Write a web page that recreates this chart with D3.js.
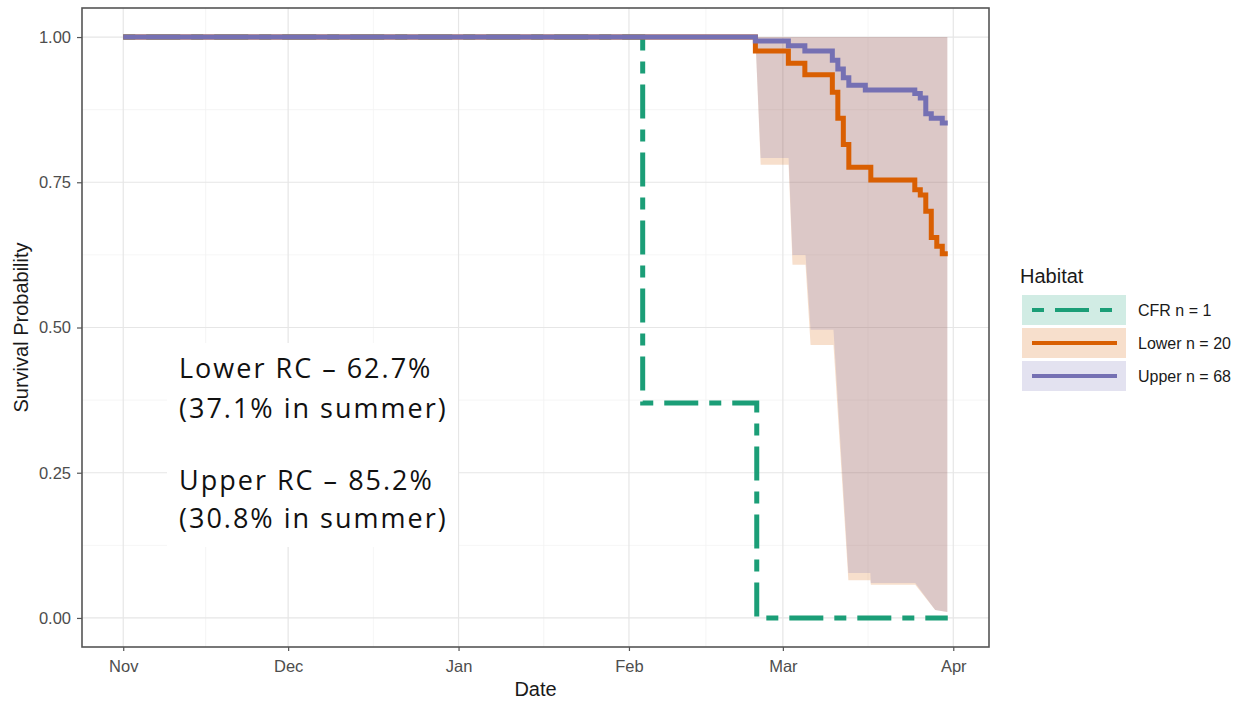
<!DOCTYPE html>
<html>
<head>
<meta charset="utf-8">
<script src="https://cdn.jsdelivr.net/npm/d3@7"></script>
<style>
body { margin: 0; background: #fff; }
</style>
</head>
<body>
<div id="chart"></div>
<script>
const parse = d3.timeParse("%Y-%m-%d %H:%M")

// survival steps per habitat
const cfrTimes = ["2018-11-01 00:00", "2019-02-03 12:00", "2019-02-24 06:00", "2019-03-31 00:00"]
const cfrSurv = [1, 0.37, 0, 0]

const lowerTimes = ["2018-11-01 00:00", "2019-02-24 00:00", "2019-03-02 00:00", "2019-03-05 00:00",
  "2019-03-10 00:00", "2019-03-11 00:00", "2019-03-12 00:00", "2019-03-13 00:00", "2019-03-17 00:00",
  "2019-03-25 00:00", "2019-03-26 00:00", "2019-03-27 00:00", "2019-03-28 00:00", "2019-03-29 00:00",
  "2019-03-30 00:00", "2019-03-31 00:00"]
const lowerSurv = [1, 0.976, 0.955, 0.935, 0.905, 0.86, 0.815, 0.776, 0.754,
  0.737, 0.728, 0.70, 0.655, 0.64, 0.627, 0.627]

const upperTimes = ["2018-11-01 00:00", "2019-02-24 00:00", "2019-03-02 00:00", "2019-03-05 00:00",
  "2019-03-10 00:00", "2019-03-11 00:00", "2019-03-12 00:00", "2019-03-13 00:00", "2019-03-16 00:00",
  "2019-03-25 00:00", "2019-03-26 00:00", "2019-03-27 00:00", "2019-03-28 00:00", "2019-03-30 00:00",
  "2019-03-31 00:00"]
const upperSurv = [1, 0.993, 0.985, 0.976, 0.96, 0.945, 0.93, 0.917, 0.909,
  0.903, 0.895, 0.868, 0.86, 0.852, 0.852]

// confidence bands: lower edges, top edge is 1
const bandTimes = ["2019-02-24 00:00", "2019-02-24 23:00", "2019-03-02 01:00", "2019-03-02 18:00",
  "2019-03-05 03:00", "2019-03-06 01:00", "2019-03-10 05:00", "2019-03-12 22:00", "2019-03-16 22:00",
  "2019-03-17 00:00", "2019-03-25 02:00", "2019-03-28 17:00", "2019-03-30 22:00"]
const lowerBandLow = [1, 0.780, 0.780, 0.608, 0.608, 0.470, 0.470, 0.065, 0.065, 0.057, 0.057, 0.0138, 0.0103]
const upperBandLow = [1, 0.792, 0.792, 0.625, 0.625, 0.496, 0.496, 0.0775, 0.0775, 0.0602, 0.0602, 0.0138, 0.0103]

const monthTicks = ["2018-11-01 00:00", "2018-12-01 00:00", "2019-01-01 00:00", "2019-02-01 00:00",
  "2019-03-01 00:00", "2019-04-01 00:00"]
const monthLabels = ["Nov", "Dec", "Jan", "Feb", "Mar", "Apr"]
const yTicks = [0, 0.25, 0.5, 0.75, 1]
const yMinor = [0.125, 0.375, 0.625, 0.875]

const habitats = ["CFR n = 1", "Lower n = 20", "Upper n = 68"]
const habitatColors = ["#1b9e77", "#d95f02", "#7570b3"]
const notes = ["Lower RC – 62.7%", "(37.1% in summer)", "Upper RC – 85.2%", "(30.8% in summer)"]

const width = 1249
const height = 701
const pLeft = 82, pRight = 989, pTop = 8, pBottom = 647
const font = "'Liberation Sans', Arial, sans-serif"
const dash = "12 11 34 11"

const svg = d3.select("#chart")
  .append("svg")
  .attr("width", width)
  .attr("height", height)
  .style("font-family", font)

svg.append("rect").attr("width", width).attr("height", height).attr("fill", "#fff")

const t0 = parse(cfrTimes[0])
const t1 = parse(cfrTimes[cfrTimes.length - 1])
const pad = (t1 - t0) * 0.05
const x = d3.scaleTime()
  .domain([new Date(+t0 - pad), new Date(+t1 + pad)])
  .range([pLeft, pRight])
const y = d3.scaleLinear().domain([-0.05, 1.05]).range([pBottom, pTop])

const months = monthTicks.map(parse)

// grid
const minorX = d3.pairs(months).map(([a, b]) => (x(a) + x(b)) / 2)
const grid = svg.append("g")
grid.selectAll(".mx").data(minorX).join("line")
  .attr("x1", d => d).attr("x2", d => d).attr("y1", pTop).attr("y2", pBottom)
  .attr("stroke", "#f2f2f2").attr("stroke-width", 0.8)
grid.selectAll(".my").data(yMinor).join("line")
  .attr("x1", pLeft).attr("x2", pRight).attr("y1", d => y(d)).attr("y2", d => y(d))
  .attr("stroke", "#f2f2f2").attr("stroke-width", 0.8)
grid.selectAll(".gx").data(months).join("line")
  .attr("x1", d => x(d)).attr("x2", d => x(d)).attr("y1", pTop).attr("y2", pBottom)
  .attr("stroke", "#e6e6e6").attr("stroke-width", 1.2)
grid.selectAll(".gy").data(yTicks).join("line")
  .attr("x1", pLeft).attr("x2", pRight).attr("y1", d => y(d)).attr("y2", d => y(d))
  .attr("stroke", "#e6e6e6").attr("stroke-width", 1.2)

// bands
const band = d3.area()
  .x(d => x(d.t))
  .y0(d => y(d.lo))
  .y1(y(1))

const lowerBand = bandTimes.map((t, i) => ({t: parse(t), lo: lowerBandLow[i]}))
const upperBand = bandTimes.map((t, i) => ({t: parse(t), lo: upperBandLow[i]}))

svg.append("path").attr("d", band(lowerBand))
  .attr("fill", habitatColors[1]).attr("fill-opacity", 0.2)
svg.append("path").attr("d", band(upperBand))
  .attr("fill", habitatColors[2]).attr("fill-opacity", 0.2)

// survival curves
const line = d3.line()
  .x(d => x(d.t))
  .y(d => y(d.s))
  .curve(d3.curveStepAfter)

const series = [
  {times: cfrTimes, surv: cfrSurv, color: habitatColors[0], dash: dash},
  {times: lowerTimes, surv: lowerSurv, color: habitatColors[1], dash: null},
  {times: upperTimes, surv: upperSurv, color: habitatColors[2], dash: null}
]

series.forEach(s => {
  const pts = s.times.map((t, i) => ({t: parse(t), s: s.surv[i]}))
  svg.append("path")
    .attr("d", line(pts))
    .attr("fill", "none")
    .attr("stroke", s.color)
    .attr("stroke-width", 5)
    .attr("stroke-dasharray", s.dash)
})

// panel border
svg.append("rect")
  .attr("x", pLeft).attr("y", pTop)
  .attr("width", pRight - pLeft).attr("height", pBottom - pTop)
  .attr("fill", "none").attr("stroke", "#555").attr("stroke-width", 1.6)

// axes
const xAxis = svg.append("g")
  .attr("transform", `translate(0,${pBottom})`)
  .call(d3.axisBottom(x).tickValues(months).tickFormat((d, i) => monthLabels[i]).tickSize(4).tickPadding(9))
const yAxis = svg.append("g")
  .attr("transform", `translate(${pLeft},0)`)
  .call(d3.axisLeft(y).tickValues(yTicks).tickFormat(d3.format(".2f")).tickSize(5).tickPadding(6))

;[xAxis, yAxis].forEach(a => {
  a.select(".domain").remove()
  a.selectAll(".tick line").attr("stroke", "#555").attr("stroke-width", 1.2)
  a.selectAll(".tick text")
    .attr("fill", "#4d4d4d")
    .style("font-family", font)
    .style("font-size", "16.5px")
})

svg.append("text")
  .attr("x", (pLeft + pRight) / 2).attr("y", 696)
  .attr("text-anchor", "middle")
  .style("font-size", "20px")
  .attr("fill", "#1a1a1a")
  .text("Date")

svg.append("text")
  .attr("transform", `translate(28,${(pTop + pBottom) / 2}) rotate(-90)`)
  .attr("text-anchor", "middle")
  .style("font-size", "20px")
  .attr("fill", "#1a1a1a")
  .text("Survival Probability")

// legend
const legend = svg.append("g")
legend.append("text")
  .attr("x", 1020).attr("y", 283)
  .style("font-size", "20px")
  .attr("fill", "#1a1a1a")
  .text("Habitat")

const keyY = [295, 328, 361]
habitats.forEach((h, i) => {
  legend.append("rect")
    .attr("x", 1022).attr("y", keyY[i])
    .attr("width", 104).attr("height", 30)
    .attr("fill", habitatColors[i]).attr("fill-opacity", 0.2)
  legend.append("line")
    .attr("x1", 1032).attr("x2", 1117)
    .attr("y1", keyY[i] + 15).attr("y2", keyY[i] + 15)
    .attr("stroke", habitatColors[i]).attr("stroke-width", 4)
    .attr("stroke-dasharray", i === 0 ? dash : null)
  legend.append("text")
    .attr("x", 1138).attr("y", keyY[i] + 21)
    .style("font-size", "16px")
    .attr("fill", "#1a1a1a")
    .text(h)
})

// annotation box
svg.append("rect")
  .attr("x", 167).attr("y", 343)
  .attr("width", 291).attr("height", 204)
  .attr("fill", "#fff")

const noteY = [378, 418, 490, 528]
svg.selectAll(".note").data(notes).join("text")
  .attr("x", 179).attr("y", (d, i) => noteY[i])
  .style("font-family", "'Open Sans', sans-serif")
  .style("font-size", "27px")
  .style("letter-spacing", "2px")
  .attr("fill", "#111")
  .text(d => d)
</script>
</body>
</html>
